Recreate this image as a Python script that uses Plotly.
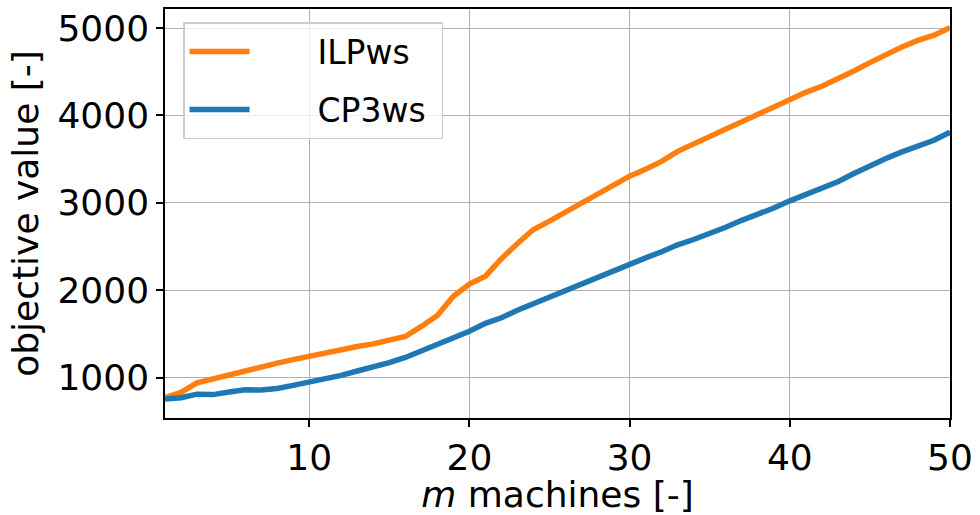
import plotly.graph_objects as go

machines = list(range(1, 51))

ilpws = [770, 830, 940, 985, 1040, 1090, 1120, 1165, 1205, 1245,
         1280, 1315, 1355, 1385, 1425, 1470, 1585, 1710, 1930, 2070,
         2160, 2360, 2535, 2695, 2790, 2893, 3005, 3095, 3200, 3305,
         3385, 3475, 3590, 3675, 3745, 3830, 3920, 4005, 4085, 4180,
         4265, 4335, 4415, 4510, 4605, 4700, 4785, 4860, 4920, 5005]

cp3ws = [755, 770, 810, 805, 835, 860, 858, 875, 910, 945,
         980, 1025, 1075, 1115, 1170, 1230, 1305, 1375, 1440, 1530,
         1620, 1685, 1770, 1845, 1920, 2005, 2085, 2150, 2225, 2295,
         2370, 2440, 2520, 2580, 2643, 2720, 2800, 2865, 2940, 3023,
         3098, 3174, 3242, 3336, 3430, 3508, 3583, 3650, 3716, 3810]

series_names = ["ILPws", "CP3ws"]

x_ticks = [10, 20, 30, 40, 50]
y_ticks = [1000, 2000, 3000, 4000, 5000]

FONT = "DejaVu Sans"
LEAD = "\u00a0" * 6
TRAIL = "\u00a0" * 1

fig = go.Figure()
fig.add_trace(go.Scatter(x=machines, y=ilpws, mode="lines", name=LEAD + series_names[0] + TRAIL,
                         line=dict(color="#ff7f0e", width=5.5), legendgroup="a"))
fig.add_trace(go.Scatter(x=machines, y=cp3ws, mode="lines", name=LEAD + series_names[1] + TRAIL,
                         line=dict(color="#1f77b4", width=5.5), legendgroup="b"))

axis_common = dict(
    showgrid=True, gridcolor="#b0b0b0", gridwidth=1.2,
    showline=True, linecolor="black", linewidth=1.5, mirror=True,
    ticks="outside", ticklen=7, tickwidth=1.5, tickcolor="black",
    zeroline=False,
    tickfont=dict(family=FONT, size=36, color="black"),
)

fig.update_layout(
    width=980, height=515,
    margin=dict(l=165, r=29, t=7, b=97),
    paper_bgcolor="white", plot_bgcolor="white",
    font=dict(family=FONT, color="black"),
    xaxis=dict(range=[1, 50], tickvals=x_ticks,
               title=dict(text="<i>m</i> machines [-]", font=dict(family=FONT, size=36), standoff=0),
               **axis_common),
    yaxis=dict(range=[537, 5219], tickvals=y_ticks,
               title=dict(text="objective value [-]", font=dict(family=FONT, size=36), standoff=8),
               **axis_common),
    legend=dict(x=0.023, y=0.968, xanchor="left", yanchor="top",
                bgcolor="rgba(255,255,255,0.8)", bordercolor="#cccccc", borderwidth=1.5,
                font=dict(family=FONT, size=33), tracegroupgap=12,
                itemwidth=60),
    showlegend=True,
)

fig.write_html("out.html")
